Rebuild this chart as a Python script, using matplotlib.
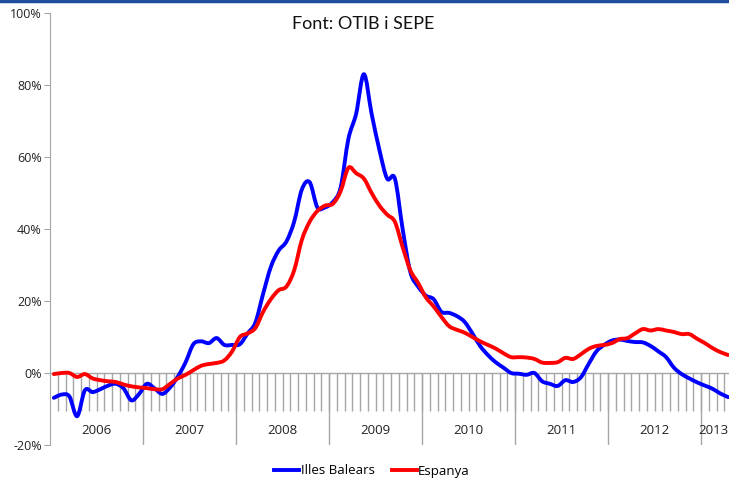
import matplotlib
matplotlib.use("Agg")
import matplotlib.pyplot as plt
from matplotlib.lines import Line2D
from matplotlib.path import Path
from matplotlib.patches import PathPatch

# monthly series, Jan 2006 .. Apr 2013 (% change)
years = ["2006", "2007", "2008", "2009", "2010", "2011", "2012", "2013"]
months_in_year = [12, 12, 12, 12, 12, 12, 12, 4]

balears = [
    -6.9, -6.0, -6.5, -12.0, -4.8, -5.3, -4.5, -3.5, -3.0, -4.3, -7.6, -5.8,
    -3.0, -4.3, -5.8, -4.0, -1.0, 3.0, 8.0, 8.8, 8.3, 9.7, 7.8, 7.8,
    8.0, 11.0, 14.0, 22.0, 29.5, 34.0, 36.5, 42.0, 51.0, 53.0, 46.0, 46.0,
    47.5, 51.5, 65.0, 72.0, 83.0, 72.0, 62.0, 54.0, 54.0, 40.0, 28.0, 24.0,
    21.5, 20.5, 17.0, 16.7, 15.8, 14.2, 11.0, 7.5, 5.0, 3.0, 1.5, 0.0,
    -0.2, -0.5, 0.0, -2.3, -3.0, -3.6, -2.0, -2.5, -1.2, 2.5, 6.0, 7.8,
    9.0, 9.3, 8.9, 8.6, 8.5, 7.5, 6.0, 4.4, 1.5, -0.3, -1.5, -2.6,
    -3.5, -4.4, -5.7, -6.7,
]
espanya = [
    -0.3, 0.0, 0.0, -1.1, -0.3, -1.5, -2.0, -2.3, -2.5, -3.2, -3.7, -4.0,
    -4.2, -4.5, -4.5, -3.0, -1.5, -0.5, 0.8, 2.0, 2.5, 2.8, 3.5, 6.0,
    10.0, 11.0, 12.5, 17.0, 20.5, 23.0, 24.0, 28.5, 37.0, 42.0, 45.0, 46.5,
    47.0, 50.5, 57.0, 55.5, 54.0, 50.0, 46.5, 44.0, 42.0, 35.0, 28.5, 25.0,
    21.0, 18.5, 15.6, 13.0, 12.0, 11.2, 10.0, 8.8, 7.8, 6.8, 5.5, 4.4,
    4.4, 4.3, 3.9, 2.9, 2.8, 3.0, 4.2, 3.9, 5.2, 6.7, 7.5, 7.8,
    8.3, 9.4, 9.7, 11.0, 12.2, 11.8, 12.2, 11.8, 11.4, 10.8, 10.8, 9.5,
    8.3, 6.9, 5.8, 5.0,
]


def smooth_path(xs, ys):
    # Excel-style smoothed line: cubic Bezier segments through every point
    verts = [(xs[0], ys[0])]
    codes = [Path.MOVETO]
    n = len(xs)
    for i in range(n - 1):
        p0 = (xs[max(i - 1, 0)], ys[max(i - 1, 0)])
        p1 = (xs[i], ys[i])
        p2 = (xs[i + 1], ys[i + 1])
        p3 = (xs[min(i + 2, n - 1)], ys[min(i + 2, n - 1)])
        c1 = (p1[0] + (p2[0] - p0[0]) / 6, p1[1] + (p2[1] - p0[1]) / 6)
        c2 = (p2[0] - (p3[0] - p1[0]) / 6, p2[1] - (p3[1] - p1[1]) / 6)
        verts += [c1, c2, p2]
        codes += [Path.CURVE4] * 3
    return Path(verts, codes)


W, H = 729, 479
fig = plt.figure(figsize=(W / 100, H / 100), dpi=100)
ax = fig.add_axes([50 / W, (H - 445) / H, 682 / W, 432 / H])

n = len(balears)
x = list(range(n))
series = [("Illes Balears", balears, "#0000ff"), ("Espanya", espanya, "#ff0000")]
for name, vals, col in series:
    ax.add_patch(PathPatch(smooth_path(x, vals), facecolor="none", edgecolor=col,
                           lw=2.8, capstyle="round", joinstyle="round", zorder=3))

ax.set_xlim(-0.5, n - 0.5)
ax.set_ylim(-20, 100)

grey = "#a6a6a6"
# zero line and month ticks
ax.axhline(0, color=grey, lw=1, zorder=1)
bounds = [k - 0.5 for k in range(1, n + 1)]
ax.vlines(bounds, -10.5, 0, color=grey, lw=1, zorder=1)

# year separators and labels
start = 0
for yr, m in zip(years, months_in_year):
    end = start + m
    if start > 0:
        ax.vlines(start - 0.5, -20, 0, color=grey, lw=1, zorder=1)
    xc = (start + end) / 2 - 0.5
    if m < 12:
        xc -= 0.35
    ax.text(xc, -16, yr, ha="center", va="center",
            fontsize=9.5, family="Open Sans", color="#222222")
    start = end

for s in ["top", "right", "bottom"]:
    ax.spines[s].set_visible(False)
ax.spines["left"].set_color(grey)
ax.set_xticks([])
ax.set_yticks(range(-20, 101, 20))
ax.set_yticklabels([f"{v}%" for v in range(-20, 101, 20)], family="Open Sans", fontsize=9)
ax.tick_params(axis="y", length=4, color=grey, pad=2, labelcolor="#222222")

fig.text(363 / W, 1 - 24 / H, "Font: OTIB i SEPE", ha="center", va="center",
         fontsize=13, family="Lato", color="#111111")

# blue bar across the top
fig.add_artist(Line2D([0, 1], [1 - 1 / H, 1 - 1 / H], transform=fig.transFigure,
                      color="#1f4e9c", lw=2.5))

handles = [Line2D([], [], color=col, lw=2.8) for _, _, col in series]
labels = [name for name, _, _ in series]
fig.legend(handles, labels, loc="center", bbox_to_anchor=(372 / W, 1 - 471 / H), ncol=2,
           frameon=False, prop={"family": "Open Sans", "size": 9.5}, handlelength=1.9,
           handletextpad=0.1, columnspacing=1.3)

fig.savefig("out.png", dpi=100)
